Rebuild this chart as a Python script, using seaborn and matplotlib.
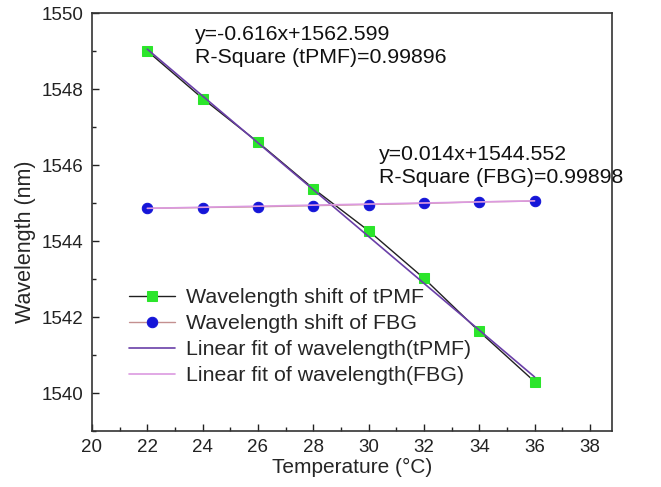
import matplotlib
matplotlib.use("Agg")
import matplotlib.pyplot as plt
from matplotlib.ticker import MultipleLocator
import numpy as np
import pandas as pd
import seaborn as sns

# Measured peak wavelengths versus temperature
temperature = [22, 24, 26, 28, 30, 32, 34, 36]
tpmf_wavelength = [1549.00, 1547.75, 1546.60, 1545.38, 1544.27, 1543.02, 1541.62, 1540.30]
fbg_wavelength = [1544.86, 1544.88, 1544.90, 1544.93, 1544.96, 1544.99, 1545.03, 1545.05]

# Linear fit parameters
tpmf_slope, tpmf_intercept, tpmf_r2 = -0.616, 1562.599, 0.99896
fbg_slope, fbg_intercept, fbg_r2 = 0.014, 1544.552, 0.99898

sns.set_theme(style="ticks")
plt.rcParams["font.family"] = ["Liberation Sans", "DejaVu Sans"]
plt.rcParams["xtick.direction"] = "in"
plt.rcParams["ytick.direction"] = "in"

fig = plt.figure(figsize=(6.61, 4.87), dpi=100)
ax = fig.add_axes([92 / 661, 1 - 431 / 487, 520 / 661, 418 / 487])

t = np.array(temperature, dtype=float)
df = pd.DataFrame({
    "T": temperature,
    "tpmf": tpmf_wavelength,
    "fbg": fbg_wavelength,
    "tpmf_fit": tpmf_slope * t + tpmf_intercept,
    "fbg_fit": fbg_slope * t + fbg_intercept,
})

sns.lineplot(data=df, x="T", y="tpmf", ax=ax, color="#202020", lw=1.0,
             marker="s", markersize=7, markerfacecolor="#2be52b",
             markeredgecolor="#2be52b", label="Wavelength shift of tPMF")
sns.lineplot(data=df, x="T", y="fbg", ax=ax, color="#c49090", lw=1.0,
             marker="o", markersize=7.5, markerfacecolor="#1515d8",
             markeredgecolor="#1515d8", label="Wavelength shift of FBG")
sns.lineplot(data=df, x="T", y="tpmf_fit", ax=ax, color="#6a3fa8", lw=1.2,
             label="Linear fit of wavelength(tPMF)")
sns.lineplot(data=df, x="T", y="fbg_fit", ax=ax, color="#dc9ae0", lw=1.2,
             label="Linear fit of wavelength(FBG)")

ax.set_xlim(20, 38.8)
ax.set_ylim(1539, 1550)
ax.xaxis.set_major_locator(MultipleLocator(2))
ax.xaxis.set_minor_locator(MultipleLocator(1))
ax.yaxis.set_major_locator(MultipleLocator(2))
ax.yaxis.set_minor_locator(MultipleLocator(1))
ax.tick_params(which="major", length=5, width=1.0, labelsize=13.5, colors="#222222", pad=6)
ax.tick_params(which="minor", length=3, width=1.0, colors="#222222")
ax.tick_params(top=False, right=False, which="both")
for s in ax.spines.values():
    s.set_linewidth(1.2)
    s.set_color("#333333")

ax.set_xlabel("Temperature (°C)", fontsize=15, labelpad=1)
ax.set_ylabel("Wavelength (nm)", fontsize=15.5)
ax.yaxis.set_label_coords(-0.108, 0.452)

ax.text(23.71, 1549.68, f"y={tpmf_slope:.3f}x+{tpmf_intercept:.3f}\nR-Square (tPMF)={tpmf_r2:.5f}",
        fontsize=15.3, va="top", ha="left", linespacing=1.25, color="#111111")
ax.text(30.38, 1546.53, f"y={fbg_slope:.3f}x+{fbg_intercept:.3f}\nR-Square (FBG)={fbg_r2:.5f}",
        fontsize=15.3, va="top", ha="left", linespacing=1.25, color="#111111")

leg = ax.legend(loc="upper left", bbox_to_anchor=(0.055, 0.362), frameon=False,
                fontsize=15.4, handlelength=2.15, handletextpad=0.5, labelspacing=0.33,
                borderaxespad=0)

fig.savefig("out.png", dpi=100)
